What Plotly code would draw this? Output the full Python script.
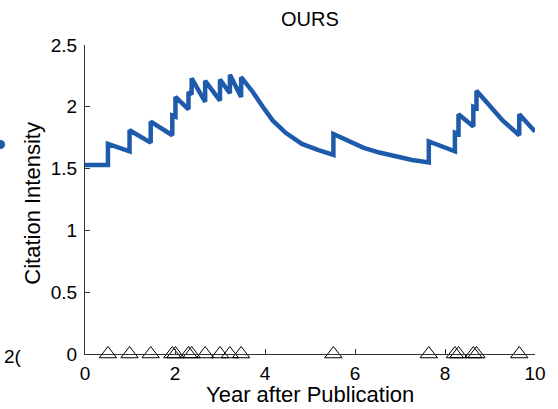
import plotly.graph_objects as go

# Citation events (years after publication)
event_years = [0.51, 0.99, 1.46, 1.94, 2.01, 2.30, 2.37, 2.67, 3.00, 3.22, 3.47,
               5.52, 7.64, 8.22, 8.30, 8.63, 8.70, 9.65]

# Estimated citation intensity along the timeline (jumps at each event)
curve_years = [0.00, 0.51, 0.51, 0.99, 0.99, 1.46, 1.46, 1.94, 1.94, 2.01, 2.01,
               2.30, 2.30, 2.37, 2.37, 2.67, 2.67, 3.00, 3.00, 3.22, 3.22, 3.47, 3.47,
               3.60, 3.73, 3.95, 4.17, 4.46, 4.82, 5.19, 5.52, 5.52,
               5.81, 6.18, 6.54, 6.91, 7.27, 7.64, 7.64,
               8.22, 8.22, 8.30, 8.30, 8.63, 8.63, 8.70, 8.70,
               8.99, 9.28, 9.65, 9.65, 10.00]
curve_intensity = [1.53, 1.53, 1.70, 1.64, 1.81, 1.71, 1.88, 1.77, 1.93, 1.92, 2.08,
                   1.98, 2.12, 2.10, 2.23, 2.04, 2.21, 2.05, 2.22, 2.11, 2.26, 2.08, 2.24,
                   2.18, 2.12, 2.00, 1.89, 1.79, 1.70, 1.65, 1.61, 1.78,
                   1.73, 1.67, 1.63, 1.60, 1.57, 1.55, 1.72,
                   1.64, 1.79, 1.78, 1.94, 1.84, 2.00, 1.99, 2.13,
                   2.01, 1.89, 1.77, 1.94, 1.80]

x_ticks = [0, 2, 4, 6, 8, 10]
y_ticks = [0, 0.5, 1, 1.5, 2, 2.5]
y_tick_text = ["0", "0.5", "1", "1.5", "2", "2.5"]

W, H = 558, 409
L, R, T, B = 85, 17, 45, 55
PW, PH = W - L - R, H - T - B


def px(x):
    return (x - L) / PW


def py(y):
    return (H - B - y) / PH


FONT = "Liberation Sans, Arial, Helvetica, sans-serif"
BLUE = "#1f5bab"

fig = go.Figure()
fig.add_trace(go.Scatter(
    x=curve_years, y=curve_intensity, mode="lines",
    line=dict(color=BLUE, width=4.5), hoverinfo="skip", showlegend=False,
))
fig.add_trace(go.Scatter(
    x=event_years, y=[0] * len(event_years), mode="markers",
    marker=dict(symbol="triangle-up-open", size=15, color="black",
                line=dict(color="black", width=1)),
    cliponaxis=False, showlegend=False, hoverinfo="skip",
))

axis_common = dict(
    showgrid=False, zeroline=False, showline=True, linecolor="#333333",
    linewidth=1, ticks="inside", ticklen=5, tickcolor="#333333",
    tickfont=dict(family=FONT, size=19, color="black"), mirror=False,
)
fig.update_xaxes(range=[0, 10], tickvals=x_ticks, ticktext=[str(v) for v in x_ticks],
                 ticklabelstandoff=2, **axis_common)
fig.update_yaxes(range=[0, 2.5], tickvals=y_ticks, ticktext=y_tick_text,
                 ticklabelstandoff=3, **axis_common)

annotations = [
    dict(text="OURS", x=px(313), y=py(19), font=dict(size=20)),
    dict(text="Citation Intensity", x=px(32), y=py(203), textangle=-90,
         font=dict(size=22)),
    dict(text="Year after Publication", x=px(313), y=py(394), font=dict(size=22)),
    dict(text="2(", x=px(1), y=py(356), xanchor="left", font=dict(size=19)),
]
for a in annotations:
    a.update(xref="paper", yref="paper", showarrow=False,
             xanchor=a.get("xanchor", "center"), yanchor="middle")
    a["font"].update(family=FONT, color="black")

fig.update_layout(
    width=W, height=H, margin=dict(l=L, r=R, t=T, b=B),
    paper_bgcolor="white", plot_bgcolor="white",
    annotations=annotations,
    shapes=[dict(type="circle", xref="paper", yref="paper",
                 x0=px(-5), x1=px(4), y0=py(149), y1=py(140),
                 fillcolor=BLUE, line=dict(width=0))],
)

fig.write_html("out.html")
